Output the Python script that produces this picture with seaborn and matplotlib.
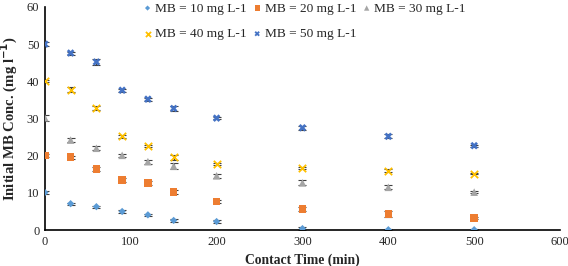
import numpy as np
import pandas as pd
import matplotlib
matplotlib.use("Agg")
import matplotlib.pyplot as plt
import seaborn as sns

time = [0, 30, 60, 90, 120, 150, 200, 300, 400, 500]
mb10 = [10.1, 7.1, 6.3, 5.0, 4.1, 2.6, 2.3, 0.4, 0.1, 0.1]
mb20 = [20.1, 19.6, 16.4, 13.4, 12.7, 10.2, 7.7, 5.6, 4.4, 3.2]
mb30 = [30.2, 24.2, 22.0, 20.1, 18.4, 17.2, 14.6, 12.7, 11.5, 10.2]
mb40 = [40.0, 37.7, 32.8, 25.2, 22.7, 19.6, 17.7, 16.7, 16.0, 15.2]
mb50 = [50.0, 47.6, 45.2, 37.6, 35.2, 32.7, 30.1, 27.5, 25.2, 22.7]
err10 = [0.4, 0.3, 0.3, 0.3, 0.3, 0.3, 0.3, 0.3, 0.2, 0.2]
err20 = [0.4, 0.4, 0.5, 0.5, 0.5, 0.5, 0.4, 0.5, 0.8, 0.3]
err30 = [0.8, 0.5, 0.5, 0.4, 0.5, 0.8, 0.6, 0.7, 0.5, 0.2]
err40 = [0.3, 0.7, 0.6, 0.4, 0.3, 0.7, 0.3, 0.3, 0.4, 0.2]
err50 = [0.6, 0.4, 0.7, 0.4, 0.4, 0.6, 0.3, 0.5, 0.5, 0.3]
labels = ["MB = 10 mg L-1", "MB = 20 mg L-1", "MB = 30 mg L-1",
          "MB = 40 mg L-1", "MB = 50 mg L-1"]

series = [mb10, mb20, mb30, mb40, mb50]
errs = [err10, err20, err30, err40, err50]
colors = ["#5B9BD5", "#ED7D31", "#A5A5A5", "#FFC000", "#4472C4"]
markers = ["D", "s", "^", "x", "X"]
sizes = [14, 30, 30, 28, 30]

rows = []
for lab, vals, er in zip(labels, series, errs):
    for t, v, e in zip(time, vals, er):
        rows.append({"time": t, "conc": v, "err": e, "series": lab})
df = pd.DataFrame(rows)

sns.set_style("white")
plt.rcParams["font.family"] = ["Liberation Serif", "DejaVu Serif"]

fig = plt.figure(figsize=(5.68, 2.66), dpi=100)
ax = fig.add_axes([0.079, 0.135, 0.907, 0.839])

for lab, col, mk, sz in zip(labels, colors, markers, sizes):
    d = df[df["series"] == lab]
    ax.errorbar(d["time"], d["conc"], yerr=d["err"], fmt="none",
                ecolor="#404040", elinewidth=0.8, capsize=3, capthick=0.8, zorder=2)
    kw = dict(linewidth=1.3) if mk == "x" else dict(edgecolor="none")
    sns.scatterplot(data=d, x="time", y="conc", color=col, marker=mk, s=sz,
                    label=lab, ax=ax, zorder=3, **kw)

ax.set_xlim(0, 600)
ax.set_ylim(0, 60)
ax.set_xticks(range(0, 601, 100))
ax.set_yticks(range(0, 61, 10))
ax.tick_params(axis="both", labelsize=9, length=0, pad=4)
for s in ["top", "right"]:
    ax.spines[s].set_visible(False)
for s in ["left", "bottom"]:
    ax.spines[s].set_color("black")
    ax.spines[s].set_linewidth(1.2)

ax.set_xlabel("Contact Time (min)", fontsize=9.8, fontweight="bold", labelpad=4)
ax.set_ylabel("Initial MB Conc. (mg l$^{\\mathbf{-1}}$)", fontsize=10.6, fontweight="bold", labelpad=5)

h, l = ax.get_legend_handles_labels()
order = [0, 3, 1, 4, 2]
leg = ax.legend([h[i] for i in order], [l[i] for i in order],
                loc="upper left", bbox_to_anchor=(0.176, 1.045), ncol=3,
                frameon=False, fontsize=9.6, handletextpad=0.05, columnspacing=0.3,
                handlelength=1.0, labelspacing=1.0, borderaxespad=0, markerscale=0.7)

fig.savefig("out.png", dpi=100)
